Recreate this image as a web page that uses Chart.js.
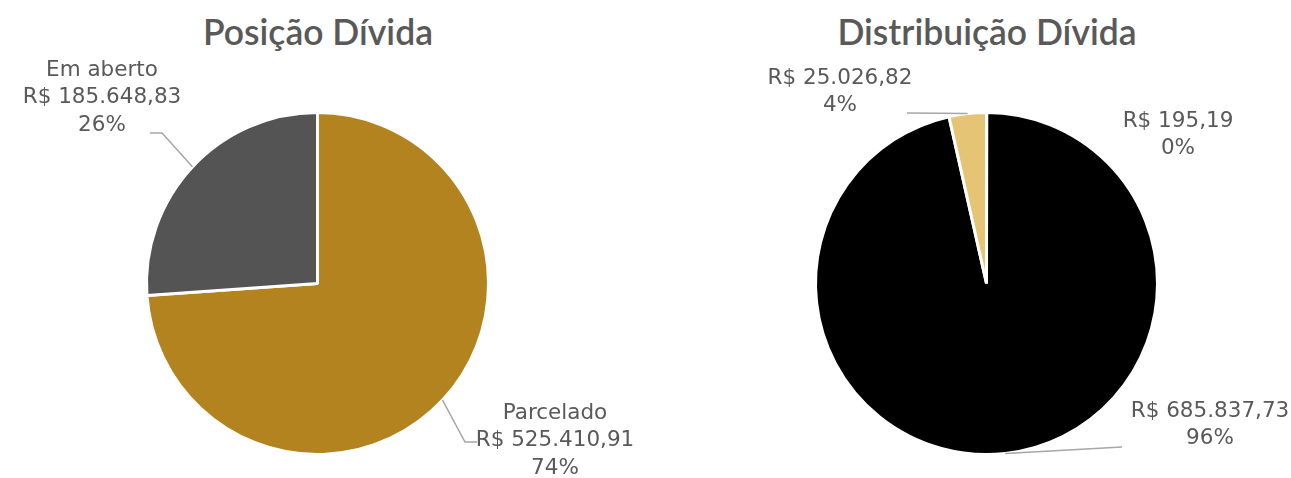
<!DOCTYPE html>
<html lang="pt-BR">
<head>
<meta charset="utf-8">
<script src="https://cdn.jsdelivr.net/npm/chart.js@4.4.1/dist/chart.umd.min.js"></script>
<style>
    body { margin: 0; background: #fff; }
    #wrap { position: relative; width: 1291px; height: 478px; overflow: hidden; }
    #wrap canvas { position: absolute; top: 0; }
    .titulo {
        position: absolute; top: 9px; height: 46px; line-height: 46px;
        text-align: center; color: #595959;
        font-family: Lato, "Open Sans", sans-serif; font-size: 35.5px; font-weight: 600;
    }
</style>
</head>
<body>
<div id="wrap">
    <div class="titulo" style="left:0;width:636px;">Posição Dívida</div>
    <div class="titulo" style="left:645px;width:684px;">Distribuição Dívida</div>
    <canvas id="posicaoChart" width="645" height="478" style="left:0"></canvas>
    <canvas id="distribChart" width="646" height="478" style="left:645px"></canvas>
</div>
<script>
    // dados - Posição Dívida
    var posicaoLabels = ['Parcelado', 'Em aberto'];
    var posicaoValores = [525410.91, 185648.83];
    var posicaoCores = ['#B3831F', '#545454'];

    // dados - Distribuição Dívida
    var distribLabels = ['', '', ''];
    var distribValores = [195.19, 685837.73, 25026.82];
    var distribCores = ['#7F7F7F', '#000000', '#E6C475'];

    var corTexto = '#595959';
    var corLinha = '#A6A6A6';

    // formata R$ no padrão pt-BR
    function formatReal(v) {
        var partes = v.toFixed(2).split('.');
        var inteiro = partes[0].replace(/\B(?=(\d{3})+(?!\d))/g, '.');
        return 'R$ ' + inteiro + ',' + partes[1];
    }

    function percent(valores, i) {
        var soma = valores.reduce(function (a, b) { return a + b; }, 0);
        return Math.round(100 * valores[i] / soma) + '%';
    }

    // rótulos com linha de chamada
    var rotulosPlugin = {
        id: 'rotulos',
        afterDatasetsDraw: function (chart, args, opts) {
            var ctx = chart.ctx;
            var meta = chart.getDatasetMeta(0);
            var ds = chart.data.datasets[0];
            ctx.save();
            meta.data.forEach(function (arc, i) {
                var item = opts.items[i];
                if (!item) return;
                var mid = (arc.startAngle + arc.endAngle) / 2;
                var ex = arc.x + Math.cos(mid) * arc.outerRadius;
                var ey = arc.y + Math.sin(mid) * arc.outerRadius;
                if (item.linha) {
                    ctx.beginPath();
                    ctx.strokeStyle = corLinha;
                    ctx.lineWidth = 1.5;
                    ctx.moveTo(ex, ey);
                    item.linha.forEach(function (p) { ctx.lineTo(p[0], p[1]); });
                    ctx.stroke();
                }
                var linhas = [];
                if (chart.data.labels[i]) linhas.push(chart.data.labels[i]);
                linhas.push(formatReal(ds.data[i]));
                linhas.push(percent(ds.data, i));
                ctx.fillStyle = corTexto;
                ctx.font = '21.5px "DejaVu Sans", sans-serif';
                ctx.textAlign = 'center';
                ctx.textBaseline = 'middle';
                linhas.forEach(function (t, k) {
                    ctx.fillText(t, item.x, item.y + k * 27.5);
                });
            });
            ctx.restore();
        }
    };

    function LoadChart(canvasId, labels, valores, cores, padding, items) {
        var el = document.getElementById(canvasId).getContext('2d');
        return new Chart(el, {
            type: 'pie',
            data: {
                labels: labels,
                datasets: [{
                    data: valores,
                    backgroundColor: cores,
                    borderColor: '#ffffff',
                    borderWidth: 3
                }]
            },
            options: {
                responsive: false,
                animation: false,
                devicePixelRatio: 1,
                layout: { padding: padding },
                plugins: {
                    legend: { display: false },
                    tooltip: { enabled: false },
                    rotulos: { items: items }
                }
            },
            plugins: [rotulosPlugin]
        });
    }

    LoadChart('posicaoChart', posicaoLabels, posicaoValores, posicaoCores,
        { top: 111, bottom: 22, left: 145, right: 155 },
        [
            { x: 555, y: 413, linha: [[465, 442], [477, 442]] },
            { x: 102, y: 70, linha: [[162, 133], [150, 133]] }
        ]);

    LoadChart('distribChart', distribLabels, distribValores, distribCores,
        { top: 111, bottom: 22, left: 169, right: 132 },
        [
            { x: 533, y: 121 },
            { x: 565, y: 411, linha: [[477, 447]] },
            { x: 195, y: 78, linha: [[262, 113]] }
        ]);
</script>
</body>
</html>
